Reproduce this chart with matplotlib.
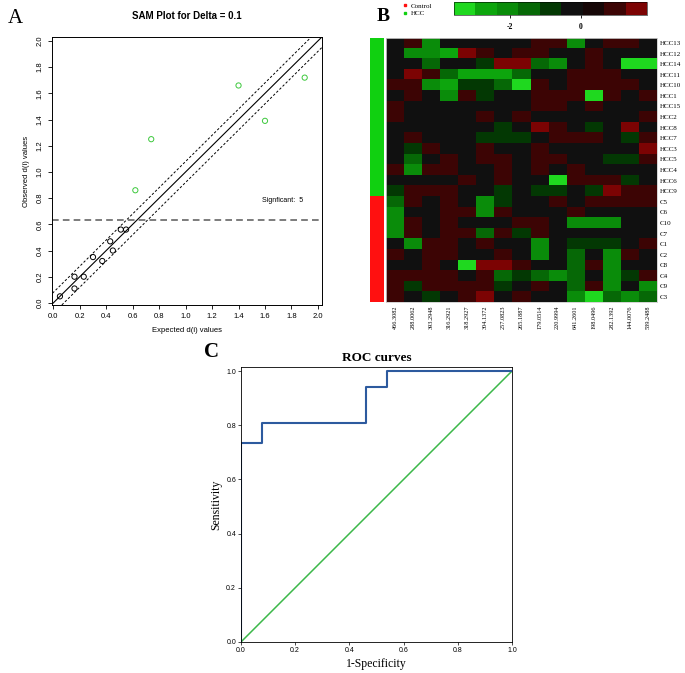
"""SAM plot, metabolite heatmap and ROC curve, three panels in one figure."""

import numpy as np
import matplotlib.pyplot as plt
from matplotlib.colors import ListedColormap, BoundaryNorm
from matplotlib.lines import Line2D
from matplotlib.cm import ScalarMappable

# ---- panel A: SAM plot ----
sam_expected = [0.05, 0.16, 0.16, 0.23, 0.30, 0.37, 0.43, 0.45, 0.51, 0.55]
sam_observed = [0.05, 0.20, 0.11, 0.20, 0.35, 0.32, 0.47, 0.40, 0.56, 0.56]
sig_expected = [0.62, 0.74, 1.40, 1.60, 1.90]
sig_observed = [0.86, 1.25, 1.66, 1.39, 1.72]
delta = 0.08
cutoff = 0.635
n_significant = 5

# ---- panel B: heatmap ----
mz_labels = ["466.3082", "288.0062", "393.2948", "316.2921", "318.2927",
             "304.1372", "257.0823", "265.1887", "179.0514", "220.9994",
             "641.2601", "198.0496", "282.1392", "144.0076", "539.2488"]
sample_labels = ["HCC13", "HCC12", "HCC14", "HCC11", "HCC10", "HCC1", "HCC15",
                 "HCC2", "HCC8", "HCC7", "HCC3", "HCC5", "HCC4", "HCC6", "HCC9",
                 "C5", "C6", "C10", "C7", "C1", "C2", "C8", "C4", "C9", "C3"]
sample_group = ["HCC"] * 15 + ["Control"] * 10
heat_values = [
    [0, 0.8, -2, 0, 0, 0, 0, 0, 0.8, 0.8, -2, 0, 0.8, 0.8, 0],
    [0, -2, -2, -2.5, 1.5, 0.8, 0, 0.8, 0.8, 0, 0, 0.8, 0, 0, 0],
    [0, 0, -1.5, 0, 0, -0.8, 1.5, 1.5, -1.5, -2, 0, 0.8, 0, -3, -3],
    [0, 1.5, 0.8, -1.5, -2.5, -2.5, -2.5, -1.5, 0, 0, 0.8, 0.8, 0.8, 0, 0],
    [0.8, 0.8, -2, -2.5, -0.8, -0.8, -1.5, -3, 0.8, 0, 0.8, 0.8, 0.8, 0.8, 0],
    [0, 0.8, 0, -2, 0.8, -0.8, 0, 0, 0.8, 0.8, 0.8, -3, 0.8, 0, 0.8],
    [0.8, 0, 0, 0, 0, 0, 0, 0, 0.8, 0.8, 0, 0.8, 0, 0, 0],
    [0.8, 0, 0, 0, 0, 0.8, 0, 0.8, 0, 0, 0, 0, 0, 0, 0.8],
    [0, 0, 0, 0, 0, 0, -0.8, 0, 1.5, 0.8, 0, -0.8, 0, 1.5, 0],
    [0, 0.8, 0, 0, 0, -0.8, -0.8, -0.8, 0, 0.8, 0.8, 0.8, 0, -0.8, 0.8],
    [0, -0.8, 0.8, 0, 0, 0.8, 0, 0, 0.8, 0, 0, 0, 0, 0, 1.5],
    [0, -1.5, 0, 0.8, 0, 0.8, 0.8, 0, 0.8, 0.8, 0, 0, -0.8, -0.8, 0.8],
    [0.8, -2, 0.8, 0.8, 0, 0, 0.8, 0, 0.8, 0, 0.8, 0, 0, 0, 0],
    [0, 0, 0, 0, 0.8, 0, 0.8, 0, 0, -3, 0.8, 0.8, 0.8, -0.8, 0],
    [-0.8, 0.8, 0.8, 0.8, 0, 0, -0.8, 0, -0.8, -0.8, 0, -0.8, 1.5, 0.8, 0.8],
    [-1.5, 0.8, 0, 0.8, 0, -2, -0.8, 0, 0, 0.8, 0, 0.8, 0.8, 0.8, 0.8],
    [-2, 0, 0, 0.8, 0.8, -2, 0.8, 0, 0, 0, 0.8, 0, 0, 0, 0],
    [-2, 0.8, 0, 0.8, 0, 0, 0, 0.8, 0.8, 0, -2, -2, -2, 0, 0],
    [-2, 0.8, 0, 0.8, 0.8, -1.5, 0.8, -0.8, 0.8, 0, 0, 0, 0, 0, 0],
    [0, -2, 0.8, 0.8, 0, 0.8, 0, 0, -2, 0, -0.8, -0.8, -0.8, 0, 0.8],
    [0.8, 0, 0.8, 0.8, 0, 0, 0.8, 0, -2, 0, -1.5, 0, -2, 0.8, 0],
    [0, 0, 0.8, 0, -3, 1.5, 1.5, 0.8, 0, 0, -1.5, 0.8, -2, 0, 0],
    [0.8, 0.8, 0.8, 0.8, 0, 0.8, -1.5, -0.8, -1.5, -2, -1.5, 0, -2, -0.8, 0.8],
    [0.8, -0.8, 0.8, 0.8, 0.8, 0.8, -0.8, 0, 0.8, 0, -1.5, 0.8, -2, 0, -2],
    [0.8, 0, -0.8, 0, 0.8, 1.5, 0, 0.8, 0, 0, -2, -3, -1.5, -2, -1.5],
]
color_bounds = [-3.5, -2.75, -2.3, -1.8, -1.2, -0.45, 0.05, 0.5, 1.3, 1.95]
color_steps = ["#1fd81f", "#0da50d", "#0a8c0a", "#066806", "#033803",
               "#101010", "#160707", "#3c0404", "#7c0303"]
cbar_ticks = [-2, 0]

# ---- panel C: ROC ----
roc_fpr = [0.0, 0.0, 0.077, 0.077, 0.462, 0.462, 0.538, 0.538, 1.0]
roc_tpr = [0.0, 0.733, 0.733, 0.81, 0.81, 0.94, 0.94, 1.0, 1.0]

SERIF = "Liberation Serif"
SANS = "Liberation Sans"

fig = plt.figure(figsize=(6.85, 6.73), dpi=100)

# A
ax_a = fig.add_axes([0.0759, 0.547, 0.394, 0.398])
ax_a.plot([-0.1, 2.1], [-0.1, 2.1], color="black", lw=0.8)
ax_a.plot([-0.1, 2.1], [-0.1 + delta, 2.1 + delta], color="black", lw=0.7, ls=(0, (2.5, 2)))
ax_a.plot([-0.1, 2.1], [-0.1 - delta, 2.1 - delta], color="black", lw=0.7, ls=(0, (2.5, 2)))
ax_a.axhline(cutoff, color="#666666", lw=1.2, ls=(0, (4, 2.5)))
ax_a.scatter(sam_expected, sam_observed, s=14, facecolors="none", edgecolors="black", lw=0.7)
ax_a.scatter(sig_expected, sig_observed, s=14, facecolors="none", edgecolors="#3cc83c", lw=0.7)
ax_a.text(1.58, 0.78, f"Signficant:  {n_significant}", fontsize=5, family=SANS, va="center")
ax_a.set_xlim(-0.01, 2.03)
ax_a.set_ylim(-0.015, 2.03)
ticks = np.arange(0, 2.01, 0.2)
ax_a.set_xticks(ticks)
ax_a.set_yticks(ticks)
ax_a.set_xticklabels([f"{t:.1f}" for t in ticks], fontsize=5.5, family=SANS)
ax_a.set_yticklabels([f"{t:.1f}" for t in ticks], fontsize=5.5, family=SANS,
                     rotation=90, va="center")
ax_a.tick_params(length=3, width=0.6, pad=3)
ax_a.set_xlabel("Expected d(i) values", fontsize=5.5, family=SANS, labelpad=5)
ax_a.set_ylabel("Observed d(i) values", fontsize=5.5, family=SANS, labelpad=5)
ax_a.set_title("SAM Plot for Delta = 0.1", fontsize=7, family=SANS, fontweight="bold", pad=13)
for sp in ax_a.spines.values():
    sp.set_linewidth(0.7)

# B
cmap = ListedColormap(color_steps)
norm = BoundaryNorm(color_bounds, cmap.N)

ax_side = fig.add_axes([0.540, 0.5508, 0.019, 0.3932])
group_codes = np.array([[1 if g == "HCC" else 0] for g in sample_group])
ax_side.imshow(group_codes, cmap=ListedColormap(["#ff1010", "#10d010"]), aspect="auto",
               interpolation="nearest")
ax_side.set_axis_off()

ax_b = fig.add_axes([0.5635, 0.5508, 0.3956, 0.3932])
ax_b.imshow(np.array(heat_values), cmap=cmap, norm=norm, aspect="auto", interpolation="nearest")
ax_b.set_xticks(range(len(mz_labels)))
ax_b.set_xticklabels(mz_labels, rotation=90, fontsize=4.5, family=SERIF)
ax_b.set_yticks(range(len(sample_labels)))
ax_b.set_yticklabels(sample_labels, fontsize=5, family=SERIF)
ax_b.yaxis.tick_right()
ax_b.tick_params(length=0, pad=2)
for sp in ax_b.spines.values():
    sp.set_color("#cccccc")
    sp.set_linewidth(0.6)

cax = fig.add_axes([0.6628, 0.9777, 0.2818, 0.0193])
cb = fig.colorbar(ScalarMappable(norm=norm, cmap=cmap), cax=cax, orientation="horizontal",
                  ticks=cbar_ticks)
cb.minorticks_off()
cb.outline.set_linewidth(0.4)
cb.ax.set_xticklabels([str(t) for t in cbar_ticks])
cb.ax.tick_params(length=2, width=0.6, labelsize=5.5, pad=4)
for lab in cb.ax.get_xticklabels():
    lab.set_family(SERIF)
    lab.set_fontweight("bold")

handles = [Line2D([], [], marker="s", ls="none", color="#ff1010", markersize=1.6),
           Line2D([], [], marker="s", ls="none", color="#10d010", markersize=1.6)]
fig.legend(handles, ["Control", "HCC"], loc="upper left", bbox_to_anchor=(0.578, 1.005),
           frameon=False, prop={"family": SERIF, "size": 5}, handletextpad=0.4,
           labelspacing=0.2, handlelength=0.8)

# C
ax_c = fig.add_axes([0.3518, 0.0461, 0.3956, 0.4086])
ax_c.plot([0, 1], [0, 1], color="#3cb84a", lw=1.1)
ax_c.plot(roc_fpr, roc_tpr, color="#2d5a9e", lw=1.5)
ax_c.set_xlim(0, 1)
ax_c.set_ylim(0, 1.015)
roc_ticks = np.arange(0, 1.01, 0.2)
ax_c.set_xticks(roc_ticks)
ax_c.set_yticks(roc_ticks)
ax_c.set_xticklabels([f"{t:.1f}" for t in roc_ticks], fontsize=5, family=SANS)
ax_c.set_yticklabels([f"{t:.1f}" for t in roc_ticks], fontsize=5, family=SANS)
ax_c.tick_params(length=2, width=0.5, pad=1.5)
ax_c.set_xlabel("1-Specificity", fontsize=8.5, family=SERIF, labelpad=3)
ax_c.set_ylabel("Sensitivity", fontsize=8.5, family=SERIF, labelpad=3)
ax_c.set_title("ROC curves", fontsize=9.5, family=SERIF, fontweight="bold", pad=4)
for sp in ax_c.spines.values():
    sp.set_linewidth(0.6)

# panel letters
fig.text(0.012, 0.972, "A", fontsize=15, family=SERIF, va="center")
fig.text(0.550, 0.976, "B", fontsize=14, family=SERIF, va="center", fontweight="bold")
fig.text(0.298, 0.477, "C", fontsize=15, family=SERIF, va="center", fontweight="bold")

fig.savefig("out.png", dpi=100)
